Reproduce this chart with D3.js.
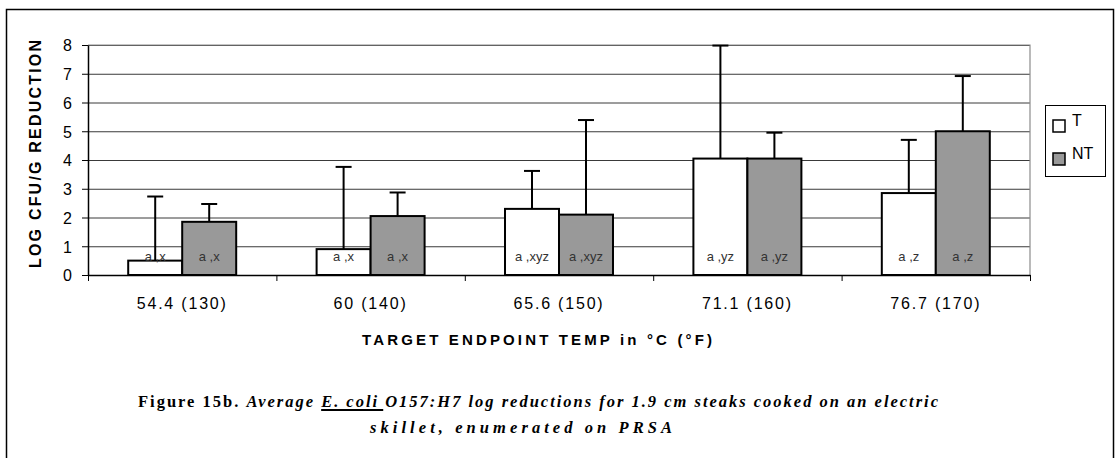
<!DOCTYPE html>
<html>
 <head>
   <title>Figure 15b</title>
   <script type="text/javascript" src="https://cdn.jsdelivr.net/npm/d3@7"></script>
   <style type="text/css">
		body { margin: 0; background: #fff; }
		svg { display: block; }
		text { font-family: Arial, "Liberation Sans", sans-serif; fill: #000; }
		.tick text { font-size: 16px; }
		.caption text { font-family: "Liberation Serif", "Times New Roman", serif; font-weight: bold; font-size: 16.5px; }
   </style>
 </head>
 <body>
   <script type="text/javascript">

	var categories = ["54.4 (130)", "60 (140)", "65.6 (150)", "71.1 (160)", "76.7 (170)"];
	var series = ["T", "NT"];
	var valuesT = [0.5, 0.9, 2.3, 4.05, 2.85];
	var valuesNT = [1.85, 2.05, 2.1, 4.05, 5.0];
	var errT = [2.23, 2.86, 1.32, 3.93, 1.85];
	var errNT = [0.62, 0.82, 3.29, 0.9, 1.92];
	var labelsT = ["a ,x", "a ,x", "a ,xyz", "a ,yz", "a ,z"];
	var labelsNT = ["a ,x", "a ,x", "a ,xyz", "a ,yz", "a ,z"];
	var yTicks = [0, 1, 2, 3, 4, 5, 6, 7, 8];

	var W = 1115, H = 458;
	var pLeft = 88, pRight = 1030, pTop = 45, pBottom = 275;
	var fills = { T: "#ffffff", NT: "#999999" };

	var svg = d3.select('body').append('svg')
		.attr('width', W).attr('height', H);

	// outer frame (bottom edge falls outside the picture)
	svg.append('rect')
		.attr('x', 6.5).attr('y', 9.5)
		.attr('width', 1107).attr('height', 470)
		.attr('fill', 'none').attr('stroke', '#000').attr('stroke-width', 1.5);

	var y = d3.scaleLinear().domain([0, 8]).range([pBottom, pTop]);
	var x0 = d3.scaleBand().domain(categories).range([pLeft, pRight])
		.paddingInner(0.4268).paddingOuter(0.2134);
	var x1 = d3.scaleBand().domain(series).range([0, x0.bandwidth()]);
	var xb = d3.scaleLinear().domain([0, categories.length]).range([pLeft, pRight]);

	// gridlines
	svg.append('g')
		.attr('transform', 'translate(' + pLeft + ',0)')
		.call(d3.axisLeft(y).tickValues(yTicks.slice(1)).tickSize(-(pRight - pLeft)).tickFormat(''))
		.call(function(g) { g.select('.domain').remove(); })
		.selectAll('line').attr('stroke', '#3a3a3a');

	// plot border top / right
	svg.append('path')
		.attr('d', 'M' + pLeft + ',' + pTop + 'H' + pRight + 'V' + pBottom)
		.attr('fill', 'none').attr('stroke', '#8c8c8c').attr('stroke-width', 1.2);

	var rows = categories.map(function(c, i) {
		return [
			{ cat: c, s: 'T', v: valuesT[i], e: errT[i], label: labelsT[i] },
			{ cat: c, s: 'NT', v: valuesNT[i], e: errNT[i], label: labelsNT[i] }
		];
	});

	var groups = svg.append('g').selectAll('g.cat').data(rows)
		.enter().append('g')
		.attr('class', 'cat')
		.attr('transform', function(d) { return 'translate(' + x0(d[0].cat) + ',0)'; });

	var bars = groups.selectAll('g.bar').data(function(d) { return d; })
		.enter().append('g').attr('class', 'bar');

	// error bars (upper half only), bars drawn over
	bars.append('line')
		.attr('x1', function(d) { return x1(d.s) + x1.bandwidth() / 2; })
		.attr('x2', function(d) { return x1(d.s) + x1.bandwidth() / 2; })
		.attr('y1', function(d) { return y(d.v); })
		.attr('y2', function(d) { return y(d.v + d.e); })
		.attr('stroke', '#000').attr('stroke-width', 2);
	bars.append('line')
		.attr('x1', function(d) { return x1(d.s) + x1.bandwidth() / 2 - 8; })
		.attr('x2', function(d) { return x1(d.s) + x1.bandwidth() / 2 + 8; })
		.attr('y1', function(d) { return y(d.v + d.e); })
		.attr('y2', function(d) { return y(d.v + d.e); })
		.attr('stroke', '#000').attr('stroke-width', 2);

	bars.append('rect')
		.attr('x', function(d) { return x1(d.s); })
		.attr('y', function(d) { return y(d.v); })
		.attr('width', x1.bandwidth())
		.attr('height', function(d) { return y(0) - y(d.v); })
		.attr('fill', function(d) { return fills[d.s]; })
		.attr('stroke', '#000').attr('stroke-width', 2);

	bars.append('text')
		.attr('x', function(d) { return x1(d.s) + x1.bandwidth() / 2; })
		.attr('y', 261)
		.attr('text-anchor', 'middle')
		.style('font-size', '13px')
		.style('fill', '#333')
		.text(function(d) { return d.label; });

	// y axis
	svg.append('g')
		.attr('transform', 'translate(' + pLeft + ',0)')
		.call(d3.axisLeft(y).tickValues(yTicks).tickSize(6).tickSizeOuter(0).tickPadding(10))
		.call(function(g) {
			g.select('.domain').attr('stroke-width', 1.5);
			g.selectAll('.tick text').attr('dy', '0.36em').style('font-family', 'Arial, "Liberation Sans", sans-serif');
		});

	// x axis: line + boundary ticks
	svg.append('g')
		.attr('transform', 'translate(0,' + pBottom + ')')
		.call(d3.axisBottom(xb).ticks(categories.length).tickSize(6).tickSizeOuter(0).tickFormat(''))
		.call(function(g) { g.select('.domain').attr('stroke-width', 1.5); });

	// x category labels
	svg.append('g')
		.attr('transform', 'translate(0,' + pBottom + ')')
		.call(d3.axisBottom(x0).tickSize(0).tickPadding(0))
		.call(function(g) {
			g.select('.domain').remove();
			g.selectAll('.tick text')
				.attr('y', 34).attr('dy', 0)
				.style('letter-spacing', '1.8px')
				.style('font-family', 'Arial, "Liberation Sans", sans-serif');
		});

	// axis titles
	svg.append('text')
		.attr('transform', 'translate(41,154) rotate(-90)')
		.attr('text-anchor', 'middle')
		.attr('textLength', 228).attr('lengthAdjust', 'spacing')
		.style('font-weight', 'bold').style('font-size', '16px')
		.text('LOG CFU/G REDUCTION');

	svg.append('text')
		.attr('x', 362).attr('y', 345)
		.attr('textLength', 350).attr('lengthAdjust', 'spacing')
		.style('font-weight', 'bold').style('font-size', '15px')
		.text('TARGET ENDPOINT TEMP in \u00b0C (\u00b0F)');

	// legend
	var legend = svg.append('g');
	legend.append('rect')
		.attr('x', 1045.5).attr('y', 105.5).attr('width', 60).attr('height', 71)
		.attr('fill', '#fff').attr('stroke', '#000').attr('stroke-width', 1);
	var ly = d3.scalePoint().domain(series).range([120, 153]);
	var li = legend.selectAll('g.item').data(series).enter().append('g').attr('class', 'item');
	li.append('rect')
		.attr('x', 1053).attr('y', function(d) { return ly(d); })
		.attr('width', 12).attr('height', 12)
		.attr('fill', function(d) { return fills[d]; })
		.attr('stroke', '#000').attr('stroke-width', 1.5);
	li.append('text')
		.attr('x', 1072).attr('y', function(d) { return ly(d) + 6; })
		.style('font-size', '16px')
		.text(function(d) { return d; });

	// caption
	var cap = svg.append('g').attr('class', 'caption');
	var line1 = cap.append('text')
		.attr('x', 138).attr('y', 407)
		.attr('textLength', 800).attr('lengthAdjust', 'spacing')
		.attr('xml:space', 'preserve');
	line1.append('tspan').text('Figure 15b. ');
	line1.append('tspan').style('font-style', 'italic').text('Average ');
	line1.append('tspan').style('font-style', 'italic').text('E. coli ');
	line1.append('tspan').style('font-style', 'italic').text('O157:H7 log reductions for 1.9 cm steaks cooked on an electric');

	cap.append('text')
		.attr('x', 370).attr('y', 433)
		.attr('textLength', 302).attr('lengthAdjust', 'spacing')
		.style('font-style', 'italic')
		.text('skillet, enumerated on PRSA');

	// underline under "E. coli "
	var startIdx = 'Figure 15b. Average '.length;
	var endIdx = startIdx + 'E. coli '.length - 1;
	var node = line1.node();
	var ux1 = node.getStartPositionOfChar(startIdx).x;
	var ux2 = node.getEndPositionOfChar(endIdx).x;
	cap.append('line')
		.attr('x1', ux1).attr('x2', ux2)
		.attr('y1', 410).attr('y2', 410)
		.attr('stroke', '#000').attr('stroke-width', 2);

    </script>
 </body>
</html>
